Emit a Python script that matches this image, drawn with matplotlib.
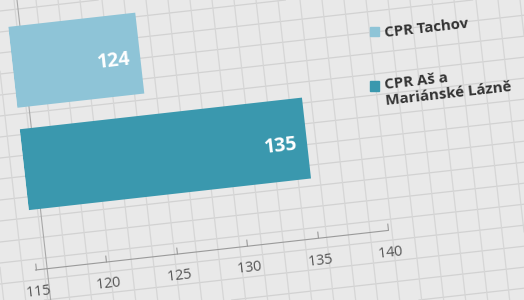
import matplotlib.pyplot as plt
import numpy as np
from matplotlib.transforms import Affine2D
import mpl_toolkits.axisartist.floating_axes as floating_axes
from mpl_toolkits.axisartist.grid_finder import FixedLocator

# data
series = ['CPR Tachov', 'CPR Aš a\nMariánské Lázně']
values = [124, 135]
colors = ['#8ec4d7', '#3a98ae']
positions = [1, 0]
xticks = [115, 120, 125, 130, 135, 140]
xmin, xmax = 115, 140
ymin, ymax = -0.98, 1.98

W, H = 524, 300
angle = 6.4  # the photo is a bit tilted
tr = Affine2D().scale(14.2, 103).rotate_deg(angle)

fig = plt.figure(figsize=(W / 100, H / 100), dpi=100)
fig.patch.set_facecolor('#e9e9e9')

# paper grid behind the chart
bg = fig.add_axes([0, 0, 1, 1], zorder=0)
bg.set_xlim(0, W)
bg.set_ylim(H, 0)
bg.set_facecolor('#e9e9e9')
k = np.tan(np.radians(angle))
for y0 in np.arange(-10, 360, 21):
    bg.axline((0, y0), slope=-k, color='#d2d2d2', lw=0.9)
for x0 in np.arange(-30, 540, 22):
    bg.axline((x0, 0), (x0 + k * H, H), color='#d6d6d6', lw=0.9)
bg.axline((17, 0), (17 + k * H, H), color='#a8a8a8', lw=0.8)
bg.axis('off')

# tilted chart
grid_helper = floating_axes.GridHelperCurveLinear(
    tr, extremes=(xmin, xmax, ymin, ymax),
    grid_locator1=FixedLocator(xticks),
    grid_locator2=FixedLocator([ymin]))

corners = tr.transform([(xmin, ymin), (xmax, ymin), (xmax, ymax), (xmin, ymax)])
x0, y0 = corners.min(axis=0)
x1, y1 = corners.max(axis=0)
cx, cy = (x0 + x1) / 2, (y0 + y1) / 2
w, h = (x1 - x0) * 1.02, (y1 - y0) * 1.02
ox, oy = tr.transform((xmin, ymin))
tx, ty = 35.5, H - 270  # where 115 on the axis sits
left = tx - (ox - (cx - w / 2))
bottom = ty - (oy - (cy - h / 2))

ax = fig.add_axes([left / W, bottom / H, w / W, h / H],
                  axes_class=floating_axes.FloatingAxes,
                  grid_helper=grid_helper, zorder=1)
ax.patch.set_facecolor('none')
aux = ax.get_aux_axes(tr)
aux.patch = ax.patch
ax.patch.zorder = 0.9

aux.barh(positions, np.array(values) - xmin, left=xmin, height=0.79,
         color=colors, zorder=2)
for p, v in zip(positions, values):
    aux.text(v - 0.7, p - 0.05, str(v), color='white', fontsize=14,
             fontweight='bold', family='Open Sans', rotation=angle,
             rotation_mode='anchor', ha='right', va='center', zorder=3)

for side in ['left', 'right', 'top']:
    ax.axis[side].set_visible(False)
b = ax.axis['bottom']
b.line.set_color('#9a9a9a')
b.major_ticks.set_color('#9a9a9a')
b.major_ticks.set_ticksize(5)
b.major_ticklabels.set_fontsize(10.5)
b.major_ticklabels.set_color('#555555')
b.major_ticklabels.set_fontfamily('Open Sans')
b.major_ticklabels.set_pad(10)

handles = [plt.Rectangle((0, 0), 1, 1, color=c) for c in colors]
leg = fig.legend(handles, series, loc='upper left',
                 bbox_to_anchor=(0.68, 0.99), frameon=False,
                 handlelength=0.6, handleheight=0.6, handletextpad=0.3,
                 labelspacing=1.6,
                 prop={'family': 'Open Sans', 'weight': 'bold', 'size': 10.8})
for t in leg.get_texts():
    t.set_color('#333333')
    t.set_rotation(angle)

fig.savefig('out.png', dpi=100, facecolor=fig.get_facecolor())
